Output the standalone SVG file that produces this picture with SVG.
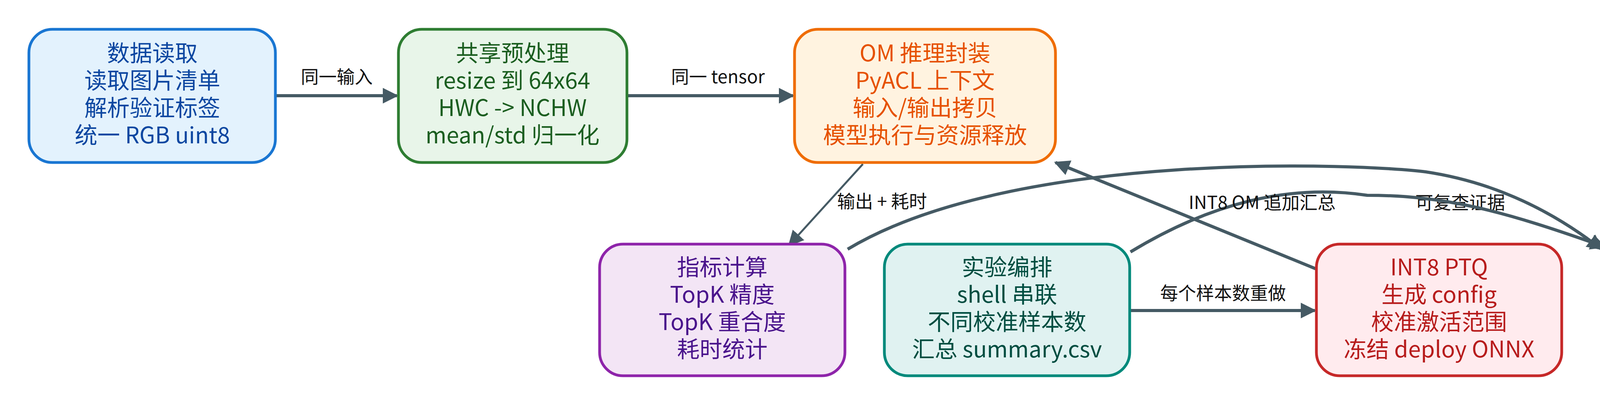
<svg xmlns="http://www.w3.org/2000/svg" width="4804" height="1042" viewBox="0 0 4804 1042">
<style>
text{font-family:"Noto Sans CJK SC","Noto Sans",sans-serif;text-anchor:middle;dominant-baseline:central}
.n text{font-size:58px}
.n rect{stroke-width:7}
.e{fill:none;stroke:#455a64;stroke-width:8}
.t{stroke-width:5}
.l{font-size:46px;fill:#111}
</style>
<defs>
<marker id="a" viewBox="0 0 10 10" refX="9" refY="5" markerWidth="5" markerHeight="5" orient="auto" markerUnits="strokeWidth"><path d="M0,0L10,5L0,10z" fill="#455a64"/></marker>
<marker id="b" viewBox="0 0 10 10" refX="9" refY="5" markerWidth="8" markerHeight="8" orient="auto" markerUnits="strokeWidth"><path d="M0,0L10,5L0,10z" fill="#455a64"/></marker>
</defs>
<g id="edges">
<path class="e" d="M705,245H1016" marker-end="url(#a)"/>
<text class="l" x="862" y="193">同一输入</text>
<path class="e" d="M1605,245H2030" marker-end="url(#a)"/>
<text class="l" x="1838" y="193">同一 tensor</text>
<path class="e t" d="M2209,420L2020,628" marker-end="url(#b)"/>
<text class="l" x="2258" y="512">输出 + 耗时</text>
<path class="e" d="M2170,638C2600,380 3500,420 3650,440C3850,470 4000,560 4100,638" marker-end="url(#a)"/>
<text class="l" x="3738" y="515">可复查证据</text>
<path class="e" d="M2894,645C3100,520 3300,470 3500,500C3700,500 3850,540 4108,632" marker-end="url(#a)"/>
<text class="l" x="3231" y="515">INT8 OM  追加汇总</text>
<path class="e" d="M3368,688L2702,416" marker-end="url(#a)"/>
<path class="e" d="M2894,795H3366" marker-end="url(#a)"/>
<text class="l" x="3131" y="747">每个样本数重做</text>
</g>
<g id="n1" class="n"><rect x="74" y="75" width="631" height="341" rx="60" fill="#e3f2fd" stroke="#1976d2"/><g fill="#0d47a1"><text x="390" y="132">数据读取</text><text x="390" y="202">读取图片清单</text><text x="390" y="272">解析验证标签</text><text x="390" y="342">统一 RGB uint8</text></g></g>
<g id="n2" class="n"><rect x="1020" y="75" width="585" height="341" rx="60" fill="#e8f5e9" stroke="#2e7d32"/><g fill="#1b5e20"><text x="1312" y="132">共享预处理</text><text x="1312" y="202">resize 到 64x64</text><text x="1312" y="272">HWC -&gt; NCHW</text><text x="1312" y="342">mean/std 归一化</text></g></g>
<g id="n3" class="n"><rect x="2034" y="75" width="668" height="341" rx="60" fill="#fff3e0" stroke="#ef6c00"/><g fill="#e65100"><text x="2368" y="132">OM 推理封装</text><text x="2368" y="202">PyACL 上下文</text><text x="2368" y="272">输入/输出拷贝</text><text x="2368" y="342">模型执行与资源释放</text></g></g>
<g id="n4" class="n"><rect x="1535" y="625" width="628" height="337" rx="60" fill="#f3e5f5" stroke="#8e24aa"/><g fill="#4a148c"><text x="1849" y="680">指标计算</text><text x="1849" y="750">TopK 精度</text><text x="1849" y="820">TopK 重合度</text><text x="1849" y="890">耗时统计</text></g></g>
<g id="n5" class="n"><rect x="2264" y="625" width="628" height="337" rx="60" fill="#e0f2f1" stroke="#00897b"/><g fill="#004d40"><text x="2578" y="680">实验编排</text><text x="2578" y="750">shell 串联</text><text x="2578" y="820">不同校准样本数</text><text x="2578" y="890">汇总 summary.csv</text></g></g>
<g id="n6" class="n"><rect x="3370" y="625" width="628" height="337" rx="60" fill="#ffebee" stroke="#c62828"/><g fill="#b71c1c"><text x="3684" y="680">INT8 PTQ</text><text x="3684" y="750">生成 config</text><text x="3684" y="820">校准激活范围</text><text x="3684" y="890">冻结 deploy ONNX</text></g></g>
<g id="n7" class="n"><rect x="4100" y="625" width="655" height="337" rx="60" fill="#eceff1" stroke="#546e7a"/><g fill="#263238"><text x="4427" y="680">结构化报告</text><text x="4427" y="750">模型 hash</text><text x="4427" y="820">实验参数</text><text x="4427" y="890">JSON / CSV</text></g></g>
</svg>
